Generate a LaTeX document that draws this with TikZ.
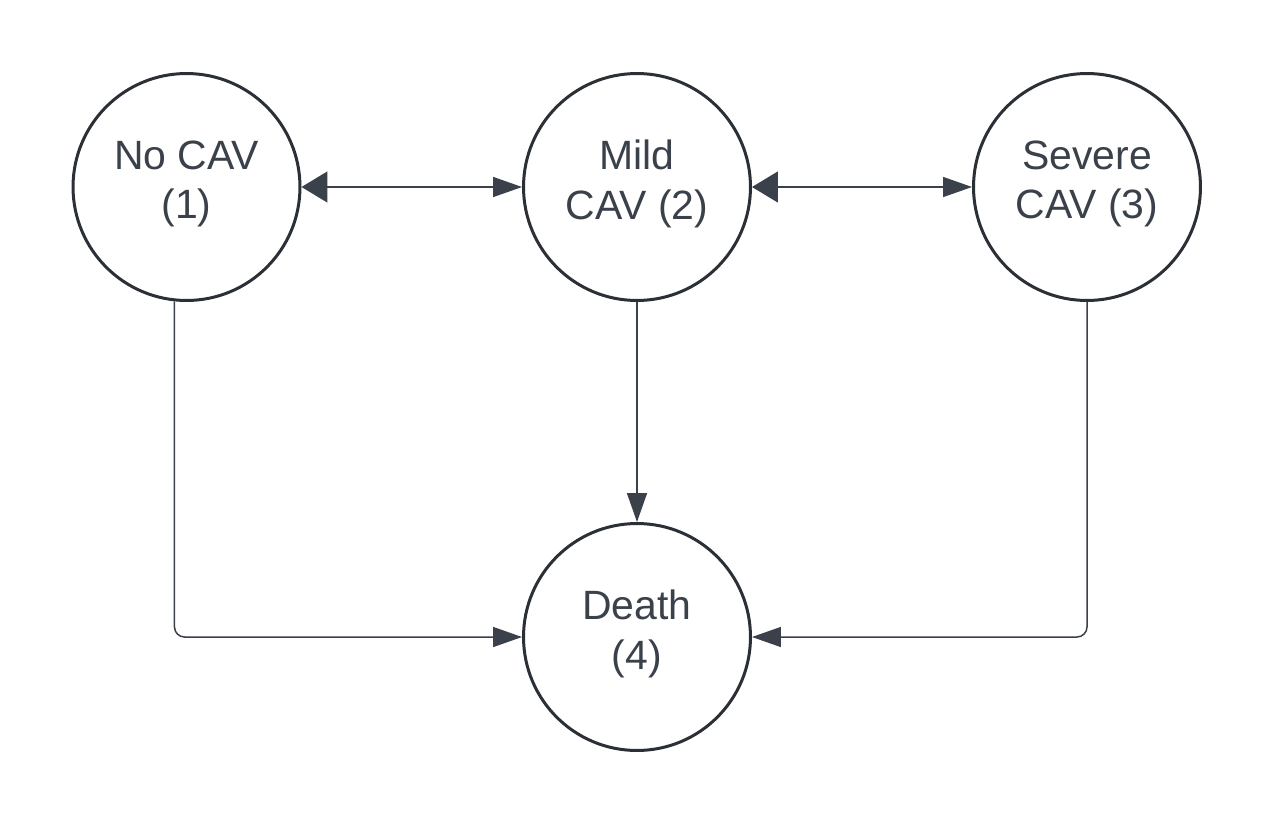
\documentclass[tikz,border=0pt]{standalone}
\usepackage{fontspec}
\setmainfont{Liberation Sans}
\usepackage{xcolor}
\usetikzlibrary{arrows.meta}
\definecolor{stategray}{HTML}{2B3037}
\definecolor{linegray}{HTML}{3A414A}

\begin{document}
\begin{tikzpicture}[x=0.02cm,y=-0.02cm,
            state/.style={shape=circle, draw=stategray, line width=0.06cm, minimum size=4.54cm,
                inner sep=0pt, align=center, text=linegray, text depth=8.3pt,
                font=\fontsize{23.3pt}{28.45pt}\selectfont},
            link/.style={draw=linegray, line width=0.03cm, rounded corners=0.2cm},
            tip/.style={-{Triangle[length=0.58cm,width=0.4cm]}},
            twotip/.style={{Triangle[length=0.52cm,width=0.62cm]}-{Triangle[length=0.58cm,width=0.4cm]}}]
        \useasboundingbox (0,0) rectangle (1275,825);

        \node[state] (nocav) at (186.5,187) {No CAV\\(1)};
        \node[state] (mild) at (637,187) {Mild\\CAV (2)};
        \node[state] (severe) at (1087,187) {Severe\\CAV (3)};
        \node[state] (death) at (637,637) {Death\\(4)};

        \draw[link,twotip] (nocav) -- (mild);
        \draw[link,twotip] (mild) -- (severe);
        \draw[link,tip] (mild) -- (death);
        \draw[link,tip] (nocav.264) |- (death.west);
        \draw[link,tip] (severe) |- (death);
    \end{tikzpicture}
\end{document}
